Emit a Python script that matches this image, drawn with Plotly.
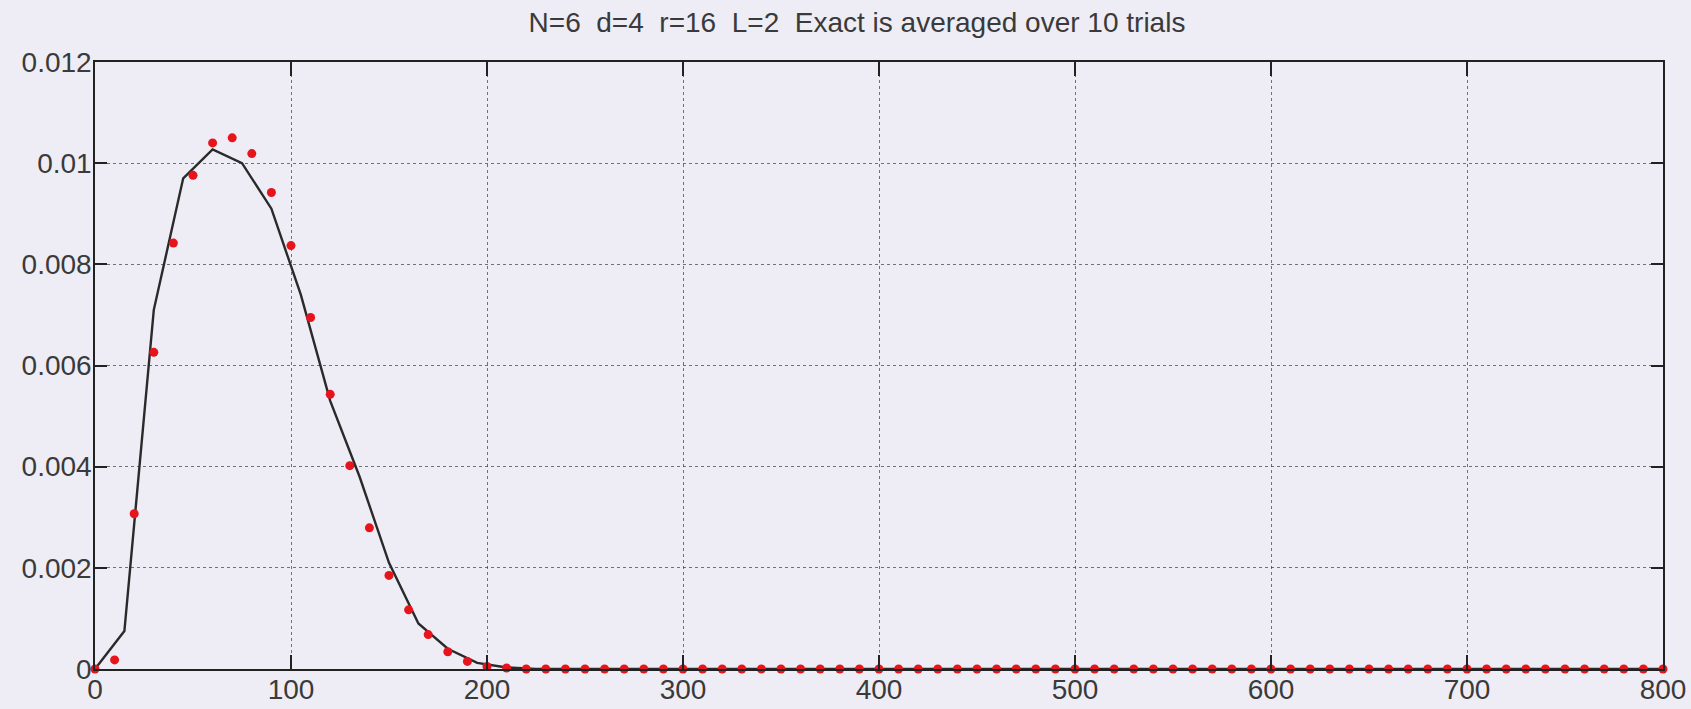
import plotly.graph_objects as go

# Approximation (red dots), sampled every 10
approx_x = list(range(0, 801, 10))
approx_y = [0.0, 0.00018, 0.00307, 0.00626, 0.00842, 0.00976, 0.0104, 0.0105, 0.01019, 0.00942,
            0.00837, 0.00695, 0.00543, 0.00402, 0.00279, 0.00185, 0.00117, 0.00068, 0.00034, 0.00015,
            0.00005, 0.00002] + [0.0] * 59

# Exact (black line), averaged over 10 trials
exact_x = list(range(0, 796, 15)) + [800]
exact_y = [0.0, 0.00075, 0.0071, 0.0097, 0.01027, 0.0100, 0.0091, 0.0074, 0.0053, 0.0038,
           0.0021, 0.0009, 0.0004, 0.00012, 0.00003] + [0.0] * (len(exact_x) - 15)

x_ticks = list(range(0, 801, 100))
y_ticks = [0, 0.002, 0.004, 0.006, 0.008, 0.01, 0.012]
y_ticktext = ["0", "0.002", "0.004", "0.006", "0.008", "0.01", "0.012"]

title = "N=6  d=4  r=16  L=2  Exact is averaged over 10 trials"

bg = "#eeedf5"
font = "Liberation Sans, Arial, sans-serif"

fig = go.Figure()
fig.add_trace(go.Scatter(x=exact_x, y=exact_y, mode="lines",
                         line=dict(color="#2a2a2a", width=2.4), showlegend=False))
fig.add_trace(go.Scatter(x=approx_x, y=approx_y, mode="markers",
                         marker=dict(color="#e8141c", size=9, line=dict(width=0)),
                         cliponaxis=False, showlegend=False))

axis_common = dict(showline=True, linecolor="#222", linewidth=1.5, mirror="ticks",
                   ticks="inside", tickcolor="#222", tickwidth=1.5, automargin=False,
                   showgrid=True, gridcolor="rgba(60,60,60,0.7)", griddash="dot", gridwidth=1,
                   zeroline=False, tickfont=dict(family=font, size=28, color="#3a3a3a"))

fig.update_xaxes(range=[0, 800], tickvals=x_ticks, ticklen=14, ticklabelstandoff=-5, **axis_common)
fig.update_yaxes(range=[0, 0.012], tickvals=y_ticks, ticktext=y_ticktext, ticklen=12,
                 ticklabelstandoff=-4, **axis_common)

fig.update_layout(
    width=1691, height=709,
    margin=dict(l=95, r=28, t=62, b=40, autoexpand=False),
    paper_bgcolor=bg, plot_bgcolor=bg,
    title=dict(text=title, x=857 / 1691, xanchor="center", y=1 - 22 / 709, yanchor="middle",
               font=dict(family=font, size=28, color="#3a3a3a")),
)

fig.write_html("out.html")
